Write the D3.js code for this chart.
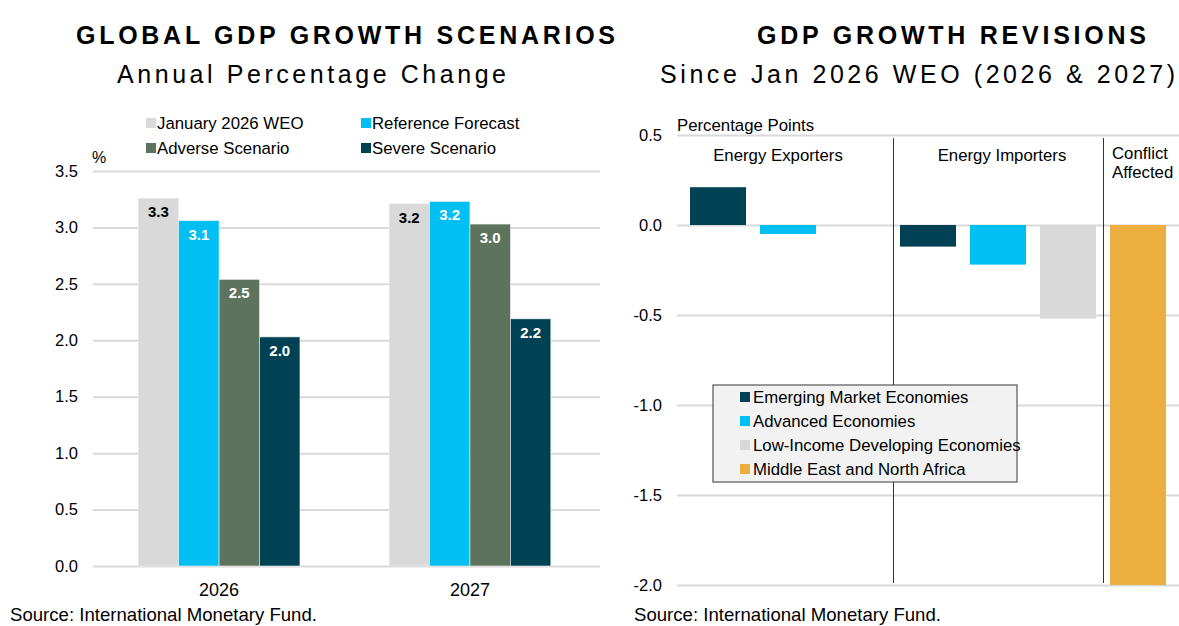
<!DOCTYPE html>
<html>
<head>
<meta charset="utf-8">
<script src="https://cdn.jsdelivr.net/npm/d3@7"></script>
<style>
  body { margin: 0; background: #fff; }
  svg { font-family: "Liberation Sans", Arial, sans-serif; display: block; }
  .tick line { stroke: #d9d9d9; stroke-width: 2; }
  .tick text { font-size: 16.5px; fill: #000; }
</style>
</head>
<body>
<div id="svg-container"></div>
<script>
// Left panel data
const years = ["2026", "2027"];
const scenarios = ["January 2026 WEO", "Reference Forecast", "Adverse Scenario", "Severe Scenario"];
const growth2026 = [3.26, 3.06, 2.54, 2.03];
const growth2027 = [3.21, 3.23, 3.03, 2.19];
const growthTicks = [0, 0.5, 1, 1.5, 2, 2.5, 3, 3.5];

// Right panel data
const revisionGroups = ["Energy Exporters", "Energy Importers", "Conflict Affected"];
const economies = ["Emerging Market Economies", "Advanced Economies", "Low-Income Developing Economies", "Middle East and North Africa"];
const revisionGroup = ["Energy Exporters", "Energy Exporters", "Energy Exporters", "Energy Importers", "Energy Importers", "Energy Importers", "Conflict Affected"];
const revisionEconomy = ["Emerging Market Economies", "Advanced Economies", "Low-Income Developing Economies", "Emerging Market Economies", "Advanced Economies", "Low-Income Developing Economies", "Middle East and North Africa"];
const revisionValues = [0.21, -0.05, null, -0.12, -0.22, -0.52, -2.0];
const revisionTicks = [-2, -1.5, -1, -0.5, 0, 0.5];

const scenarioColors = ["#d9d9d9", "#00c0f3", "#5e735e", "#004254"];
const economyColors = ["#004254", "#00c0f3", "#d9d9d9", "#ebae3f"];

const width = 1179, height = 626;
const svg = d3.select("#svg-container").append("svg")
  .attr("width", width).attr("height", height);

// Titles
function title(x, y, txt, size, weight, len) {
  svg.append("text")
    .attr("x", x).attr("y", y)
    .attr("font-size", size).attr("font-weight", weight)
    .attr("textLength", len).attr("lengthAdjust", "spacing")
    .text(txt);
}
title(76, 44, "GLOBAL GDP GROWTH SCENARIOS", 25, "bold", 539);
title(117, 83, "Annual Percentage Change", 25, "normal", 389);
title(757, 44, "GDP GROWTH REVISIONS", 25, "bold", 389);
title(660, 83, "Since Jan 2026 WEO (2026 & 2027)", 25, "normal", 515);

// ---------- Left panel ----------
const L = { left: 93, right: 600, top: 171, bottom: 566 };
const growth = [growth2026, growth2027];

const x0 = d3.scaleBand().domain(years)
  .range([L.left, 596]).paddingInner(0.355).paddingOuter(0.18);
const x1 = d3.scaleBand().domain(scenarios).range([0, x0.bandwidth()]);
const yL = d3.scaleLinear().domain([0, 3.5]).range([L.bottom, L.top]);

svg.append("g")
  .attr("transform", `translate(${L.left},0)`)
  .call(d3.axisLeft(yL).tickValues(growthTicks).tickFormat(d3.format(".1f"))
    .tickSize(-(L.right - L.left)).tickPadding(15))
  .call((g) => g.select(".domain").remove());

svg.append("g")
  .attr("transform", `translate(0,${L.bottom})`)
  .call(d3.axisBottom(x0).tickSize(0).tickPadding(17))
  .call((g) => g.select(".domain").remove())
  .call((g) => g.selectAll("text").style("font-size", "18px"));

const yearG = svg.selectAll(".year").data(years).enter().append("g")
  .attr("transform", (d) => `translate(${x0(d)},0)`);

yearG.selectAll("rect")
  .data((d, i) => scenarios.map((s, j) => ({ s, j, v: growth[i][j] })))
  .enter().append("rect")
  .attr("x", (d) => x1(d.s))
  .attr("y", (d) => yL(d.v))
  .attr("width", x1.bandwidth())
  .attr("height", (d) => yL(0) - yL(d.v))
  .attr("fill", (d) => scenarioColors[d.j])
  .attr("stroke", "#eef2ef").attr("stroke-width", 0.6);

yearG.selectAll(".lbl")
  .data((d, i) => scenarios.map((s, j) => ({ s, j, v: growth[i][j] })))
  .enter().append("text")
  .attr("x", (d) => x1(d.s) + x1.bandwidth() / 2)
  .attr("y", (d) => yL(d.v) + 19)
  .attr("text-anchor", "middle")
  .attr("font-size", 15).attr("font-weight", "bold")
  .attr("fill", (d) => (d.j === 0 ? "#000" : "#fff"))
  .text((d) => d3.format(".1f")(d.v));

svg.append("text").attr("x", 92).attr("y", 163)
  .attr("font-size", 16).text("%");

// left legend
const legL = svg.selectAll(".legL").data(scenarios).enter().append("g")
  .attr("transform", (d, i) => `translate(${i % 2 ? 361 : 146},${Math.floor(i / 2) * 25 + 118})`);
legL.append("rect").attr("width", 10).attr("height", 10)
  .attr("fill", (d, i) => scenarioColors[i]);
legL.append("text").attr("x", 11).attr("y", 11)
  .attr("font-size", 16.8).text((d) => d);

svg.append("text").attr("x", 10).attr("y", 621)
  .attr("font-size", 18.6).text("Source: International Monetary Fund.");

// ---------- Right panel ----------
const R = { left: 677, right: 1179, top: 135, bottom: 585 };
const slots = revisionValues.map((v, i) => revisionGroup[i] + "|" + revisionEconomy[i]);

const xR = d3.scaleBand().domain(slots)
  .range([683, 1173]).paddingInner(0.2).paddingOuter(0.1);
const yR = d3.scaleLinear().domain([-2, 0.5]).range([R.bottom, R.top]);

svg.append("g")
  .attr("transform", `translate(${R.left},0)`)
  .call(d3.axisLeft(yR).tickValues(revisionTicks).tickFormat(d3.format(".1f"))
    .tickSize(-(R.right - R.left)).tickPadding(15))
  .call((g) => g.select(".domain").remove())
  .call((g) => g.selectAll("text").text((d) => d3.format(".1f")(d).replace("−", "-")));

svg.selectAll(".rev")
  .data(revisionValues.map((v, i) => ({ v, key: slots[i], eco: revisionEconomy[i] }))
    .filter((d) => d.v !== null))
  .enter().append("rect")
  .attr("x", (d) => xR(d.key))
  .attr("y", (d) => yR(Math.max(0, d.v)))
  .attr("width", xR.bandwidth())
  .attr("height", (d) => Math.abs(yR(d.v) - yR(0)))
  .attr("fill", (d) => economyColors[economies.indexOf(d.eco)]);

// group separators and labels
const gap = (xR.step() - xR.bandwidth()) / 2;
const labelShift = [-10, 4, 0];
revisionGroups.forEach((g, gi) => {
  const keys = slots.filter((k, i) => revisionGroup[i] === g);
  const x0g = xR(keys[0]) - gap;
  const x1g = xR(keys[keys.length - 1]) + xR.bandwidth() + gap;
  if (gi > 0) {
    const xs = Math.round(x0g) + 0.5;
    svg.append("line")
      .attr("x1", xs).attr("x2", xs)
      .attr("y1", yR(0.5) + 3).attr("y2", yR(-2) - 2)
      .attr("stroke", "#333").attr("stroke-width", 1);
  }
  if (gi < 2) {
    svg.append("text").attr("x", (x0g + x1g) / 2 + labelShift[gi]).attr("y", 161)
      .attr("text-anchor", "middle").attr("font-size", 16.8).text(g);
  } else {
    const t = svg.append("text").attr("y", 159).attr("font-size", 16.8);
    g.split(" ").forEach((w, wi) => {
      t.append("tspan").attr("x", x0g + 9).attr("dy", wi ? 19 : 0).text(w);
    });
  }
});

svg.append("text").attr("x", 677).attr("y", 131)
  .attr("font-size", 16.8).text("Percentage Points");

// right legend
const legR = svg.append("g").attr("transform", "translate(713,385)");
legR.append("rect").attr("width", 304).attr("height", 97)
  .attr("fill", "#f2f2f2").attr("stroke", "#555").attr("stroke-width", 1.2);
const legRi = legR.selectAll(".li").data(economies).enter().append("g")
  .attr("transform", (d, i) => `translate(27,${7 + i * 24})`);
legRi.append("rect").attr("width", 10).attr("height", 10)
  .attr("fill", (d, i) => economyColors[i]);
legRi.append("text").attr("x", 13).attr("y", 11)
  .attr("font-size", 16.8).text((d) => d);

svg.append("text").attr("x", 634).attr("y", 621)
  .attr("font-size", 18.6).text("Source: International Monetary Fund.");
</script>
</body>
</html>
